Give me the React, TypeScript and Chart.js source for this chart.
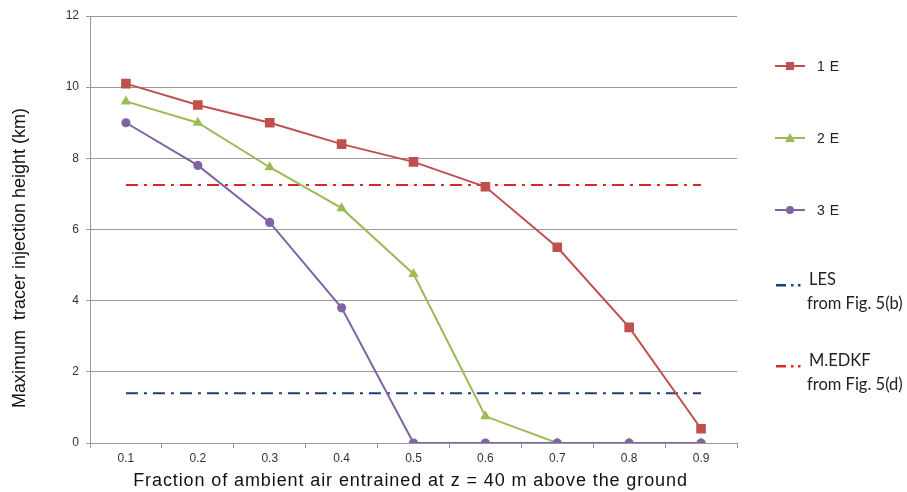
import React, { useEffect, useRef } from "react";
import { Chart, registerables } from "chart.js";

Chart.register(...registerables);

const categories = ["0.1", "0.2", "0.3", "0.4", "0.5", "0.6", "0.7", "0.8", "0.9"];
const series1E = [10.1, 9.5, 9.0, 8.4, 7.9, 7.2, 5.5, 3.25, 0.4];
const series2E = [9.6, 9.0, 7.75, 6.6, 4.75, 0.75, 0, 0, 0];
const series3E = [9.0, 7.8, 6.2, 3.8, 0, 0, 0, 0, 0];
const lesValue = 1.4;
const medkfValue = 7.25;
const yTicks = [0, 2, 4, 6, 8, 10, 12];
const xTitle = "Fraction of ambient air entrained at z = 40 m above the ground";
const yTitle = "Maximum  tracer injection height (km)";

const RED = "#c0504d";
const GREEN = "#9bbb59";
const PURPLE = "#8064a2";
const NAVY = "#1f3b7a";
const DRED = "#d42a2a";

const legendPlugin = {
  id: "customLegend",
  afterDraw(chart: any) {
    const ctx = chart.ctx;
    const area = chart.chartArea;
    ctx.save();
    // axis titles
    ctx.fillStyle = "#111";
    ctx.font = "18px 'Liberation Sans', Arial, sans-serif";
    ctx.textAlign = "center";
    ctx.textBaseline = "middle";
    try { (ctx as any).letterSpacing = "0.9px"; } catch (e) {}
    ctx.fillText(xTitle, (area.left + area.right) / 2 - 3, 481);
    try { (ctx as any).letterSpacing = "0px"; } catch (e) {}
    ctx.save();
    ctx.translate(20, 258);
    ctx.rotate(-Math.PI / 2);
    ctx.fillText(yTitle, 0, 0);
    ctx.restore();

    const items = [
      { y: 66, color: RED, shape: "square", label: "1 E" },
      { y: 138, color: GREEN, shape: "triangle", label: "2 E" },
      { y: 210, color: PURPLE, shape: "circle", label: "3 E" },
    ];
    for (const it of items) {
      ctx.strokeStyle = it.color;
      ctx.lineWidth = 2;
      ctx.beginPath();
      ctx.moveTo(775, it.y);
      ctx.lineTo(805, it.y);
      ctx.stroke();
      ctx.fillStyle = it.color;
      const cx = 790;
      if (it.shape === "square") {
        ctx.fillRect(cx - 4, it.y - 4, 8, 8);
      } else if (it.shape === "triangle") {
        ctx.beginPath();
        ctx.moveTo(cx, it.y - 5);
        ctx.lineTo(cx + 5, it.y + 4);
        ctx.lineTo(cx - 5, it.y + 4);
        ctx.closePath();
        ctx.fill();
      } else {
        ctx.beginPath();
        ctx.arc(cx, it.y, 4, 0, Math.PI * 2);
        ctx.fill();
      }
      ctx.fillStyle = "#222";
      ctx.font = "14px 'Liberation Sans', Arial, sans-serif";
      ctx.textBaseline = "middle";
      ctx.textAlign = "left";
      try { (ctx as any).letterSpacing = "0.5px"; } catch (e) {}
      ctx.fillText(it.label, 817, it.y + 1);
      try { (ctx as any).letterSpacing = "0px"; } catch (e) {}
    }
    const dd = [
      { y: 285, color: NAVY, l1: "LES", l2: "from Fig. 5(b)", y1: 280, y2: 304 },
      { y: 366, color: DRED, l1: "M.EDKF", l2: "from Fig. 5(d)", y1: 361, y2: 385 },
    ];
    for (const d of dd) {
      ctx.fillStyle = d.color;
      ctx.fillRect(776, d.y - 1, 10, 2.5);
      ctx.fillRect(791, d.y - 1, 2.5, 2.5);
      ctx.fillRect(798, d.y - 1, 2.5, 2.5);
      ctx.fillStyle = "#222";
      ctx.font = "16.5px Lato, 'Open Sans', sans-serif";
      ctx.textBaseline = "middle";
      ctx.textAlign = "left";
      ctx.fillText(d.l1, 809, d.y1);
      ctx.fillText(d.l2, 807, d.y2);
    }
    ctx.restore();
  },
};

export default function App() {
  const ref = useRef<HTMLCanvasElement>(null);
  useEffect(() => {
    document.body.style.margin = "0";
    const flat = (v: number) => categories.map(() => v);
    const chart = new Chart(ref.current!, {
      type: "line",
      data: {
        labels: categories,
        datasets: [
          {
            label: "3 E",
            data: series3E,
            borderColor: PURPLE,
            backgroundColor: PURPLE,
            borderWidth: 2,
            pointStyle: "circle",
            pointRadius: 4.6,
            pointBorderWidth: 0,
            order: 0,
          },
          {
            label: "2 E",
            data: series2E,
            borderColor: GREEN,
            backgroundColor: GREEN,
            borderWidth: 2,
            pointStyle: "triangle",
            pointRadius: 6,
            pointBorderWidth: 0,
            order: 1,
          },
          {
            label: "1 E",
            data: series1E,
            borderColor: RED,
            backgroundColor: RED,
            borderWidth: 2,
            pointStyle: "rect",
            pointRadius: 6.8,
            pointBorderWidth: 0,
            order: 2,
          },
          {
            label: "LES",
            data: flat(lesValue),
            borderColor: NAVY,
            borderWidth: 2,
            borderDash: [12, 6, 3, 6],
            pointRadius: 0,
            order: 3,
          },
          {
            label: "M.EDKF",
            data: flat(medkfValue),
            borderColor: DRED,
            borderWidth: 2,
            borderDash: [12, 6, 3, 6],
            pointRadius: 0,
            order: 4,
          },
        ],
      },
      options: {
        animation: false,
        responsive: false,
        maintainAspectRatio: false,
        layout: { padding: { top: 16, right: 170, left: 0, bottom: 0 } },
        plugins: { legend: { display: false }, tooltip: { enabled: false } },
        scales: {
          x: {
            type: "category",
            offset: true,
            border: { color: "#999", width: 1 },
            grid: { display: true, drawOnChartArea: false, drawTicks: true, tickLength: 5, color: "#999", offset: true },
            ticks: { color: "#333", font: { family: "'Liberation Sans', Arial", size: 12 }, padding: 3 },
            title: { display: false, text: xTitle },
            afterFit: (s: any) => { s.height = 49; },
          },
          y: {
            min: 0,
            max: 12,
            afterBuildTicks: (s: any) => { s.ticks = yTicks.map((v) => ({ value: v })); },
            border: { color: "#999", width: 1 },
            grid: { color: "#999", tickLength: 4, lineWidth: 1 },
            ticks: { color: "#333", font: { family: "'Liberation Sans', Arial", size: 12 }, padding: 7 },
            title: { display: false, text: yTitle },
            afterFit: (s: any) => { s.width = 90; },
          },
        },
      },
      plugins: [legendPlugin],
    });
    return () => chart.destroy();
  }, []);
  return (
    <div style={{ position: "absolute", left: 0, top: 0, width: 907, height: 492 }}>
      <canvas ref={ref} width={907} height={492} style={{ width: 907, height: 492 }} />
    </div>
  );
}
